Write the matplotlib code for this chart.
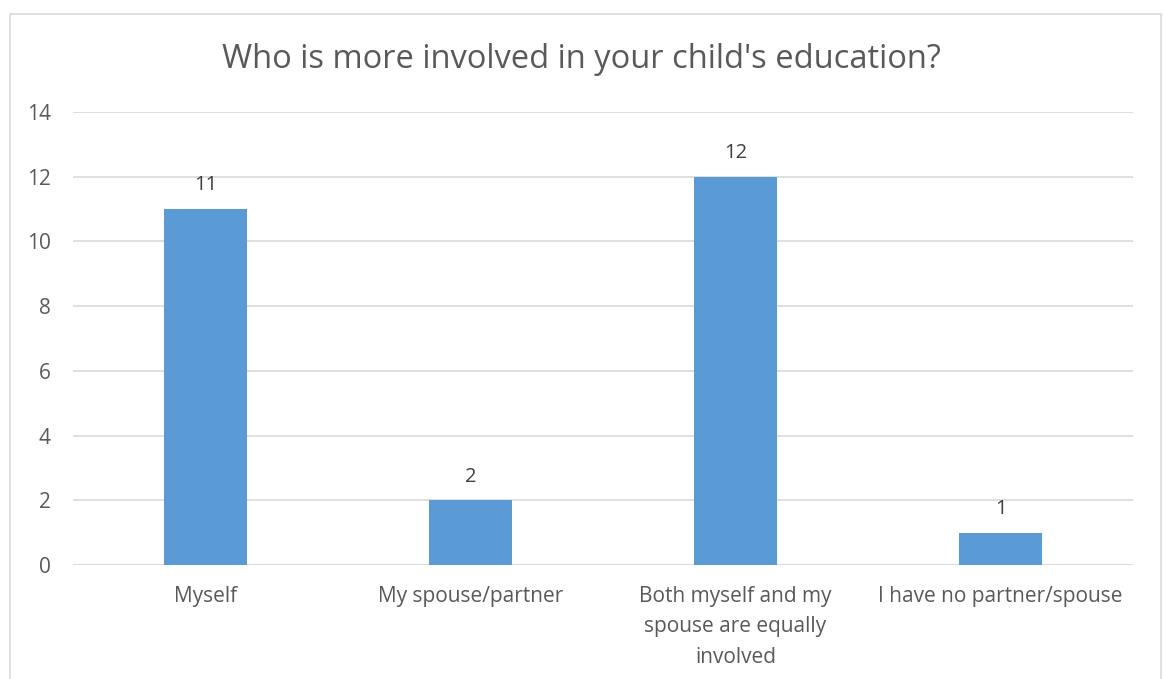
import matplotlib
matplotlib.use("Agg")
import matplotlib.pyplot as plt
from matplotlib.patches import Rectangle

categories = ["Myself", "My spouse/partner",
              "Both myself and my\nspouse are equally\ninvolved",
              "I have no partner/spouse"]
counts = [11, 2, 12, 1]
y_ticks = [0, 2, 4, 6, 8, 10, 12, 14]
title = "Who is more involved in your child's education?"

W, H = 1163, 679
plt.rcParams["font.family"] = ["Open Sans", "DejaVu Sans"]
text_color = "#595959"
grid_color = "#D9D9D9"
bar_color = "#5B9BD5"

fig = plt.figure(figsize=(W / 100, H / 100), dpi=100)
fig.patch.set_facecolor("white")

# chart frame (runs off the bottom edge)
fig.patches.append(Rectangle((9.5 / W, -0.05), (1161 - 9.5) / W, 1.05 - 13.5 / H,
                             transform=fig.transFigure, fill=False,
                             edgecolor=grid_color, linewidth=1.2))

left, right = 73 / W, 1133 / W
bottom, top = 1 - 565 / H, 1 - 112 / H
ax = fig.add_axes([left, bottom, right - left, top - bottom])

x = range(len(categories))
bars = ax.bar(x, counts, width=0.31, color=bar_color, zorder=3)
for xi, v in zip(x, counts):
    ax.annotate(str(v), (xi, v), xytext=(0, 17), textcoords="offset points",
                ha="center", va="center", fontsize=14.5, color="#404040")

ax.set_xlim(-0.5, len(categories) - 0.5)
ax.set_ylim(0, 14)
ax.set_yticks(y_ticks)
ax.set_xticks(list(x))
ax.set_xticklabels(categories, fontsize=15, color=text_color, linespacing=1.6)
ax.tick_params(axis="y", labelsize=15, labelcolor=text_color, length=0, pad=16)
ax.tick_params(axis="x", length=0, pad=15)
ax.grid(axis="y", color=grid_color, linewidth=1.2, zorder=0)
for s in ax.spines.values():
    s.set_visible(False)
ax.axhline(0, color=grid_color, linewidth=1.2, zorder=2)

fig.text(0.5, 1 - 60 / H, title, ha="center", va="center",
         fontsize=23.5, color=text_color)

fig.savefig("out.png", dpi=100)
